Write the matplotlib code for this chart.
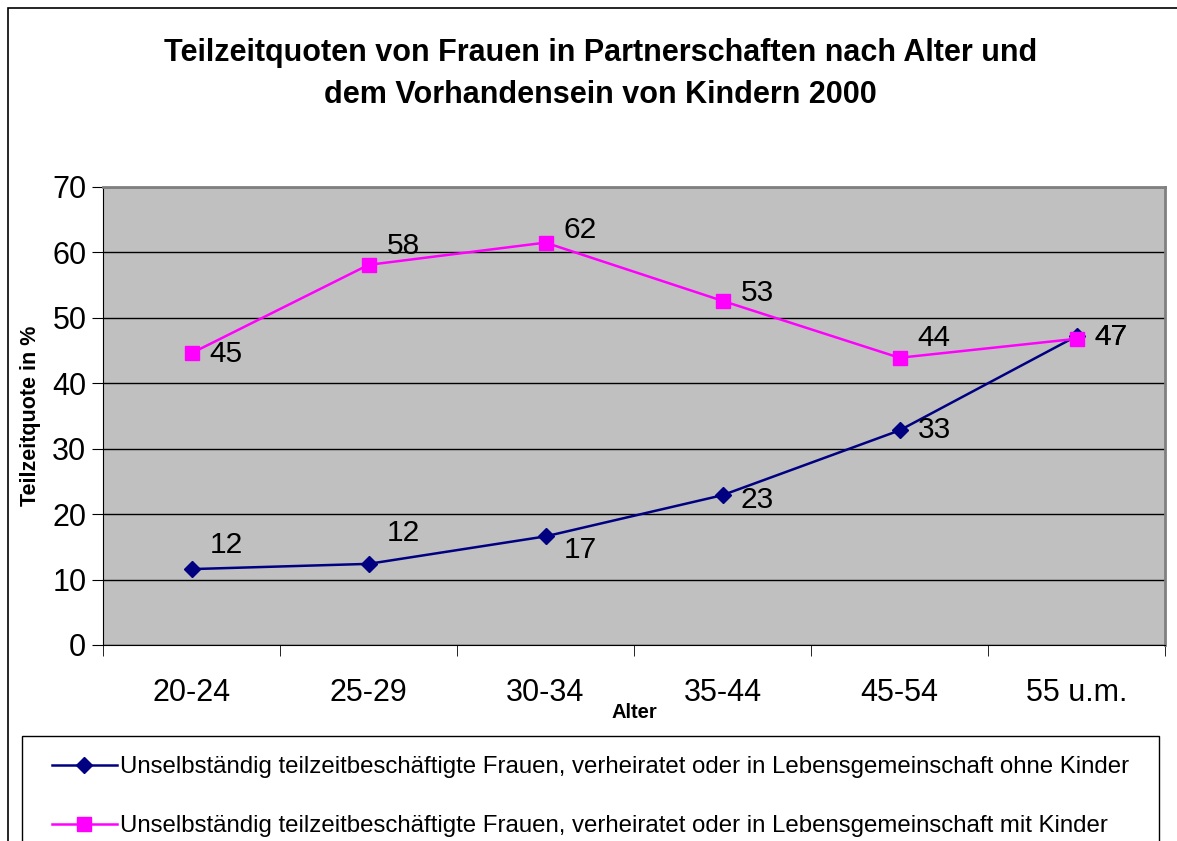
import numpy as np
import matplotlib.pyplot as plt
from matplotlib.patches import Rectangle
from matplotlib.lines import Line2D

plt.rcParams['font.family'] = ['Liberation Sans', 'DejaVu Sans']

# Daten
alter = ["20-24", "25-29", "30-34", "35-44", "45-54", "55 u.m."]
ohne_kinder = [11.6, 12.4, 16.6, 22.9, 32.8, 47.2]
mit_kinder = [44.6, 58.1, 61.5, 52.6, 43.9, 46.8]
label_ohne = "Unselbständig teilzeitbeschäftigte Frauen, verheiratet oder in Lebensgemeinschaft ohne Kinder"
label_mit = "Unselbständig teilzeitbeschäftigte Frauen, verheiratet oder in Lebensgemeinschaft mit Kinder"
titel = "Teilzeitquoten von Frauen in Partnerschaften nach Alter und\ndem Vorhandensein von Kindern 2000"

# Label-Versatz in Pixel (dx, dy)
off_ohne = [(18, 24), (18, 31), (18, -14), (18, -5), (18, 0), (18, -1)]
off_mit = [(18, -1), (18, 19), (18, 13), (18, 8), (18, 20), (18, 2)]

W, H = 1177, 841
fig = plt.figure(figsize=(W / 100, H / 100), dpi=100)

# Rahmen des Diagramms
fig.patches.append(Rectangle((8 / W, -0.1), 1.2, 1 - 8 / H + 0.1, transform=fig.transFigure,
                             fill=False, edgecolor="black", linewidth=1.2))

ax = fig.add_axes([103 / W, 1 - 645 / H, (1165 - 103) / W, (645 - 187) / H])
ax.set_facecolor("#C0C0C0")
x = np.arange(len(alter))

ax.plot(x, ohne_kinder, color="#000080", marker="D", markersize=8, linewidth=1.8, zorder=3)
ax.plot(x, mit_kinder, color="#FF00FF", marker="s", markersize=10, linewidth=1.8, zorder=4)

for i in range(len(alter)):
    ax.annotate(f"{ohne_kinder[i]:.0f}", (x[i], ohne_kinder[i]), xytext=(off_ohne[i][0] * 0.72, off_ohne[i][1] * 0.72),
                textcoords="offset points", fontsize=21.5, va="center", ha="left", zorder=5)
    ax.annotate(f"{mit_kinder[i]:.0f}", (x[i], mit_kinder[i]), xytext=(off_mit[i][0] * 0.72, off_mit[i][1] * 0.72),
                textcoords="offset points", fontsize=21.5, va="center", ha="left", zorder=5)

ax.set_xlim(-0.5, 5.5)
ax.set_ylim(0, 70)
ax.set_yticks(range(0, 71, 10))
ax.yaxis.grid(True, color="black", linewidth=1)
ax.set_axisbelow(True)
ax.set_xticks(x)
ax.set_xticklabels(alter, fontsize=22)
ax.set_xticks(np.arange(-0.5, 6, 1), minor=True)
ax.tick_params(axis="x", which="major", length=0, pad=24)
ax.tick_params(axis="x", which="minor", length=8, direction="out")
ax.tick_params(axis="y", labelsize=22, length=8, direction="out", pad=4)
for s in ["top", "right"]:
    ax.spines[s].set_color("#808080")
    ax.spines[s].set_linewidth(2)
ax.spines["left"].set_color("black")
ax.spines["bottom"].set_color("black")

ax.set_xlabel("Alter", fontsize=14.5, fontweight="bold", labelpad=-4)
ax.set_ylabel("Teilzeitquote in %", fontsize=15.5, fontweight="bold", labelpad=8)

fig.text(0.5105, 1 - 74 / H, titel, ha="center", va="center", fontsize=22, fontweight="bold", linespacing=1.5)

# Legende
fig.patches.append(Rectangle((22 / W, -0.1), (1159 - 22) / W, 1 - 736 / H + 0.1, transform=fig.transFigure,
                             fill=False, edgecolor="black", linewidth=1))
handles = [Line2D([], [], color="#000080", marker="D", markersize=8, linewidth=1.8),
           Line2D([], [], color="#FF00FF", marker="s", markersize=10, linewidth=1.8)]
fig.legend(handles, [label_ohne, label_mit], loc="upper left", bbox_to_anchor=(40 / W, 1 - 744 / H),
           frameon=False, fontsize=17.3, handlelength=2.7, handletextpad=0.15, labelspacing=1.55, borderpad=0)

fig.savefig("out.png", dpi=100)
